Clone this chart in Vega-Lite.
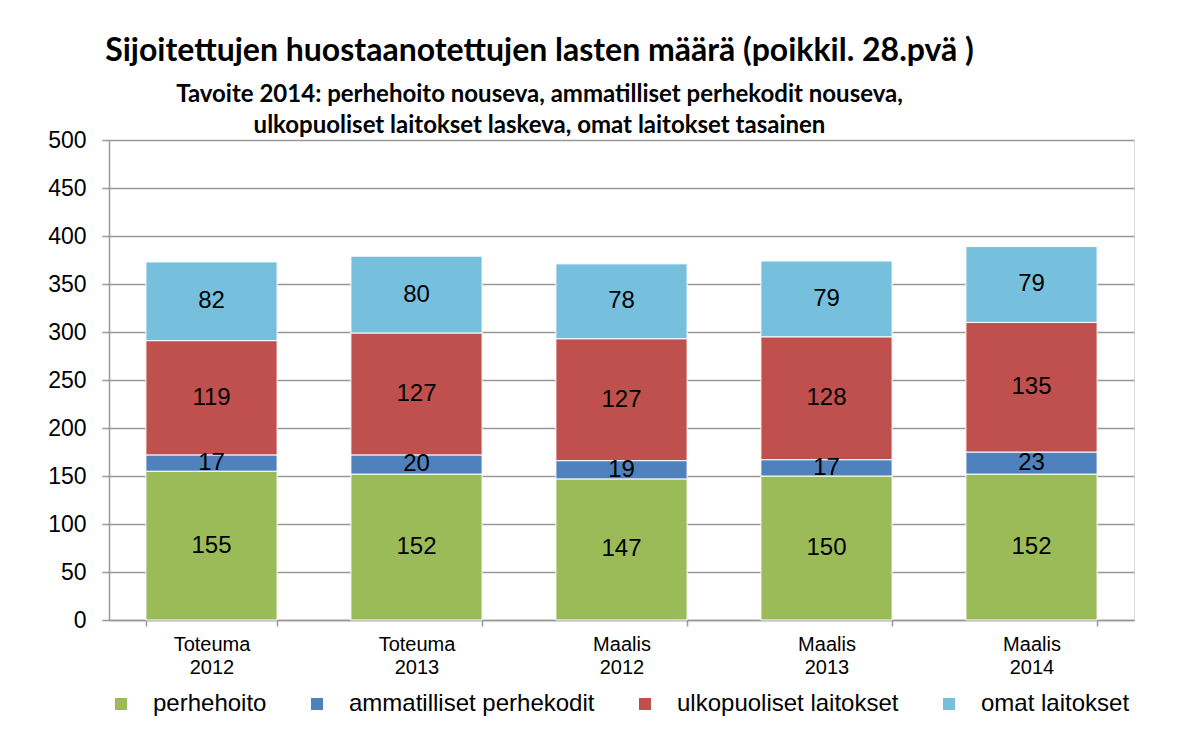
{
  "$schema": "https://vega.github.io/schema/vega-lite/v6.json",
  "autosize": {"type": "none"},
  "width": 1025,
  "height": 480,
  "padding": {"left": 109, "top": 140, "right": 66, "bottom": 113},
  "background": "white",
  "title": {
    "text": "Sijoitettujen huostaanotettujen lasten määrä  (poikkil. 28.pvä )",
    "subtitle": ["Tavoite 2014: perhehoito nouseva, ammatilliset perhekodit nouseva,", "ulkopuoliset laitokset laskeva, omat laitokset tasainen"],
    "anchor": "middle",
    "frame": "group",
    "dx": -82,
    "font": "Lato",
    "fontSize": 32,
    "fontWeight": "bold",
    "color": "#000000",
    "subtitleFont": "Lato",
    "subtitleFontSize": 24,
    "subtitleFontWeight": "bold",
    "subtitleColor": "#000000",
    "subtitleLineHeight": 31,
    "subtitlePadding": 15,
    "offset": -10
  },
  "data": {
    "values": [
      {"cat": "Toteuma 2012", "series": "perhehoito", "ord": 1, "value": 155},
      {"cat": "Toteuma 2012", "series": "ammatilliset perhekodit", "ord": 2, "value": 17},
      {"cat": "Toteuma 2012", "series": "ulkopuoliset laitokset", "ord": 3, "value": 119},
      {"cat": "Toteuma 2012", "series": "omat laitokset", "ord": 4, "value": 82},
      {"cat": "Toteuma 2013", "series": "perhehoito", "ord": 1, "value": 152},
      {"cat": "Toteuma 2013", "series": "ammatilliset perhekodit", "ord": 2, "value": 20},
      {"cat": "Toteuma 2013", "series": "ulkopuoliset laitokset", "ord": 3, "value": 127},
      {"cat": "Toteuma 2013", "series": "omat laitokset", "ord": 4, "value": 80},
      {"cat": "Maalis 2012", "series": "perhehoito", "ord": 1, "value": 147},
      {"cat": "Maalis 2012", "series": "ammatilliset perhekodit", "ord": 2, "value": 19},
      {"cat": "Maalis 2012", "series": "ulkopuoliset laitokset", "ord": 3, "value": 127},
      {"cat": "Maalis 2012", "series": "omat laitokset", "ord": 4, "value": 78},
      {"cat": "Maalis 2013", "series": "perhehoito", "ord": 1, "value": 150},
      {"cat": "Maalis 2013", "series": "ammatilliset perhekodit", "ord": 2, "value": 17},
      {"cat": "Maalis 2013", "series": "ulkopuoliset laitokset", "ord": 3, "value": 128},
      {"cat": "Maalis 2013", "series": "omat laitokset", "ord": 4, "value": 79},
      {"cat": "Maalis 2014", "series": "perhehoito", "ord": 1, "value": 152},
      {"cat": "Maalis 2014", "series": "ammatilliset perhekodit", "ord": 2, "value": 23},
      {"cat": "Maalis 2014", "series": "ulkopuoliset laitokset", "ord": 3, "value": 135},
      {"cat": "Maalis 2014", "series": "omat laitokset", "ord": 4, "value": 79}
    ]
  },
  "transform": [
    {"stack": "value", "groupby": ["cat"], "sort": [{"field": "ord", "order": "ascending"}], "as": ["y0", "y1"]},
    {"calculate": "(datum.y0 + datum.y1) / 2", "as": "mid"}
  ],
  "encoding": {
    "x": {
      "field": "cat",
      "type": "nominal",
      "sort": ["Toteuma 2012", "Toteuma 2013", "Maalis 2012", "Maalis 2013", "Maalis 2014"],
      "scale": {"paddingInner": 0.36, "paddingOuter": 0.18},
      "axis": {
        "title": null,
        "labelAngle": 0,
        "labelExpr": "split(datum.label, ' ')",
        "labelFont": "Liberation Sans",
        "labelFontSize": 20,
        "labelLineHeight": 23,
        "labelColor": "#000000",
        "labelPadding": 8,
        "tickBand": "extent",
        "tickSize": 6,
        "tickColor": "#999999",
        "tickWidth": 1.5,
        "domainColor": "#999999",
        "domainWidth": 1.5,
        "grid": false
      }
    }
  },
  "layer": [
    {
      "mark": {"type": "bar", "stroke": "#ffffff", "strokeWidth": 1},
      "encoding": {
        "y": {
          "field": "y0",
          "type": "quantitative",
          "scale": {"domain": [0, 500]},
          "axis": {
            "title": null,
            "values": [0, 50, 100, 150, 200, 250, 300, 350, 400, 450, 500],
            "labelFont": "Liberation Sans",
            "labelFontSize": 23,
            "labelColor": "#000000",
            "labelPadding": 16,
            "tickSize": 7,
            "tickColor": "#999999",
            "tickWidth": 1.5,
            "domainColor": "#999999",
            "domainWidth": 1.5,
            "gridColor": "#999999",
            "gridWidth": 1.3
          }
        },
        "y2": {"field": "y1"},
        "color": {
          "field": "series",
          "type": "nominal",
          "scale": {
            "domain": ["perhehoito", "ammatilliset perhekodit", "ulkopuoliset laitokset", "omat laitokset"],
            "range": ["#9BBB59", "#4F81BD", "#C0504D", "#76C0DE"]
          },
          "legend": {
            "title": null,
            "orient": "bottom",
            "direction": "horizontal",
            "symbolType": "square",
            "symbolSize": 144,
            "symbolStrokeWidth": 0,
            "labelFont": "Liberation Sans",
            "labelFontSize": 24,
            "labelColor": "#000000",
            "labelLimit": 0,
            "labelOffset": 20,
            "columnPadding": 38,
            "offset": 15
          }
        }
      }
    },
    {
      "mark": {"type": "text", "font": "Liberation Sans", "fontSize": 24, "color": "#000000", "baseline": "middle"},
      "encoding": {
        "y": {"field": "mid", "type": "quantitative"},
        "text": {"field": "value", "type": "quantitative"}
      }
    }
  ]
}
